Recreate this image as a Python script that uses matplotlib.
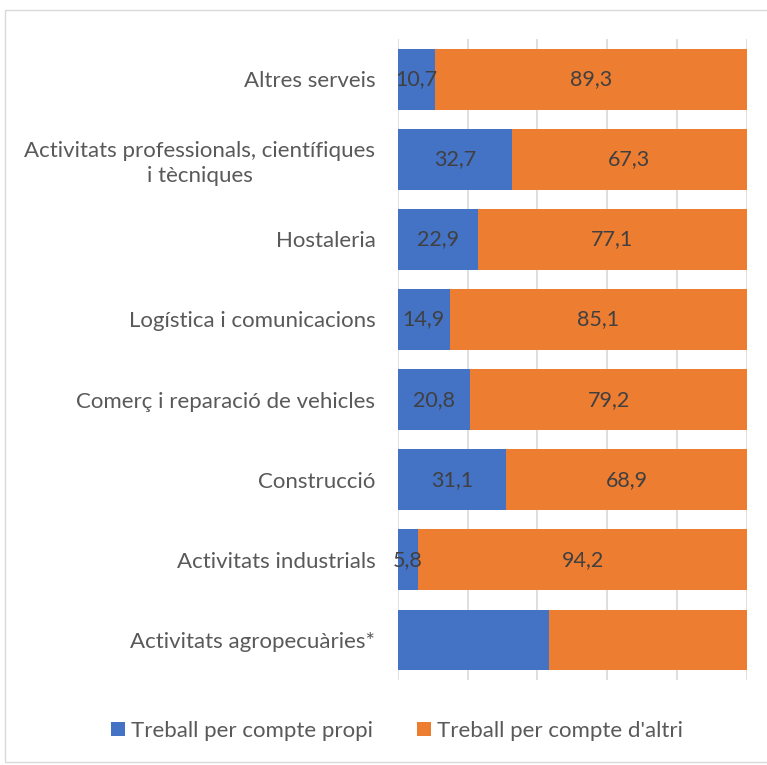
import matplotlib.pyplot as plt
import numpy as np

categories = ["Altres serveis",
              "Activitats professionals, científiques\ni tècniques",
              "Hostaleria",
              "Logística i comunicacions",
              "Comerç i reparació de vehicles",
              "Construcció",
              "Activitats industrials",
              "Activitats agropecuàries*"]
propi = [10.7, 32.7, 22.9, 14.9, 20.8, 31.1, 5.8, 43.4]
altri = [89.3, 67.3, 77.1, 85.1, 79.2, 68.9, 94.2, 56.6]
show_labels = [True, True, True, True, True, True, True, False]
series_names = ["Treball per compte propi", "Treball per compte d'altri"]

plt.rcParams['font.family'] = ['Lato', 'DejaVu Sans']

fig = plt.figure(figsize=(7.67, 7.65), dpi=100)
ax = fig.add_axes([0.5185, 0.111, 0.974 - 0.5185, 0.949 - 0.111])

blue = "#4472C4"
orange = "#ED7D31"
y = np.arange(len(categories))
h = 0.76
b1 = ax.barh(y, propi, height=h, color=blue, label=series_names[0], zorder=3)
b2 = ax.barh(y, altri, left=propi, height=h, color=orange, label=series_names[1], zorder=3)

for i in range(len(categories)):
    if show_labels[i]:
        ax.text(propi[i] / 2, y[i], f"{propi[i]:.1f}".replace(".", ","),
                ha="center", va="center", fontsize=15.5, color="#404040", zorder=4)
        ax.text(propi[i] + altri[i] / 2, y[i], f"{altri[i]:.1f}".replace(".", ","),
                ha="center", va="center", fontsize=15.5, color="#404040", zorder=4)

ax.set_xlim(0, 100)
ax.set_ylim(len(categories) - 0.5, -0.5)
ax.set_xticks([0, 20, 40, 60, 80, 100])
ax.set_xticklabels([])
ax.tick_params(axis="x", length=0)
ax.tick_params(axis="y", length=0, pad=16)
ax.set_yticks(y)
ax.set_yticklabels(categories, fontsize=16, color="#595959", ha="right")
for lbl in ax.get_yticklabels():
    lbl.set_multialignment("center")
    lbl.set_linespacing(1.3)
ax.grid(axis="x", color="#D9D9D9", linewidth=1.2, zorder=0)
for s in ax.spines.values():
    s.set_visible(False)

# chart border
fig.patches.append(plt.Rectangle((5 / 767, 1 - 762 / 765), 1, (762 - 10) / 765,
                                 transform=fig.transFigure, fill=False,
                                 edgecolor="#D9D9D9", linewidth=1))

leg = fig.legend(handles=[b1, b2], labels=series_names, loc="center",
                 bbox_to_anchor=(397 / 767, 1 - 731 / 765), ncol=2, frameon=False,
                 fontsize=16, handlelength=0.6, handleheight=0.6, handletextpad=0.27,
                 columnspacing=2.0)
for t in leg.get_texts():
    t.set_color("#595959")

fig.savefig("out.png", dpi=100)
